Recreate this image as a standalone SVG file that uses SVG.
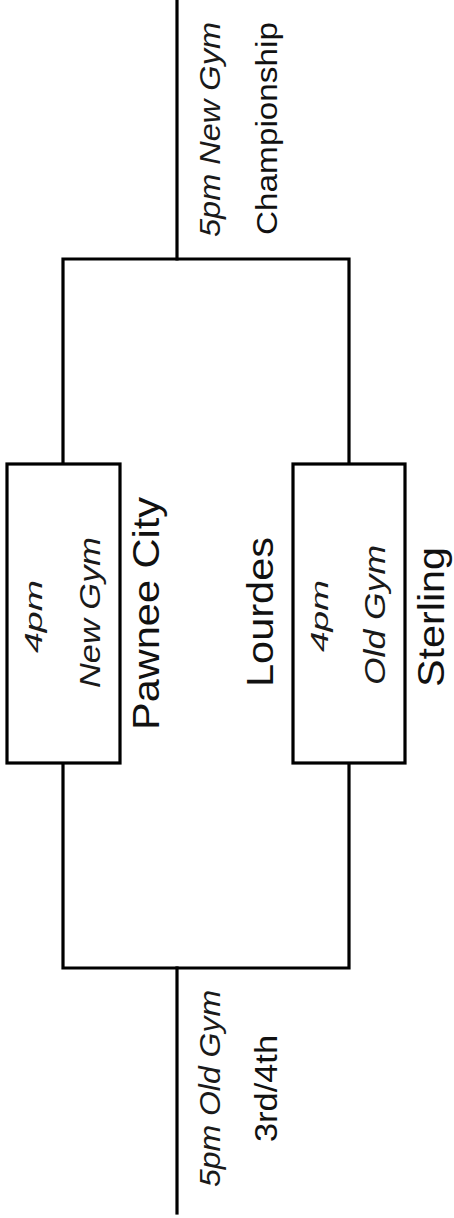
<svg xmlns="http://www.w3.org/2000/svg" width="454" height="1218" viewBox="0 0 454 1218">
<style>
.ln{fill:none;stroke:#000;stroke-width:3.2;stroke-linecap:square}
.box{fill:#fff;stroke:#000;stroke-width:3.2}
.it{font-family:"Liberation Sans",Arial,sans-serif;font-style:italic;fill:#1a1a1a}
.tm{font-family:"Liberation Sans",Arial,sans-serif;fill:#111}
</style>
<rect width="454" height="1218" fill="#fff"/>
<g id="connectors">
<path class="ln" d="M177,0 V259"/>
<path class="ln" d="M63,464 V259 H349 V464"/>
<path class="ln" d="M63,763 V968 H349 V763"/>
<path class="ln" d="M177,968 V1213"/>
</g>
<g id="final">
<text class="it" font-size="29" transform="translate(220,237) rotate(-90)" textLength="215" lengthAdjust="spacingAndGlyphs">5pm New Gym</text>
<text class="tm" font-size="30" transform="translate(277,235) rotate(-90)" textLength="213" lengthAdjust="spacingAndGlyphs">Championship</text>
</g>
<g id="game1">
<rect class="box" x="7" y="464" width="113" height="299"/>
<text class="it" font-size="23" transform="translate(42,653) rotate(-90)" textLength="73" lengthAdjust="spacingAndGlyphs">4pm</text>
<text class="it" font-size="29" transform="translate(100,688) rotate(-90)" textLength="151" lengthAdjust="spacingAndGlyphs">New Gym</text>
</g>
<g id="pawnee">
<text class="tm" font-size="37" transform="translate(159,730) rotate(-90)" textLength="233" lengthAdjust="spacingAndGlyphs">Pawnee City</text>
</g>
<g id="lourdes">
<text class="tm" font-size="36" transform="translate(273,687) rotate(-90)" textLength="150" lengthAdjust="spacingAndGlyphs">Lourdes</text>
</g>
<g id="game2">
<rect class="box" x="293" y="464" width="112" height="299"/>
<text class="it" font-size="23" transform="translate(328,652) rotate(-90)" textLength="72" lengthAdjust="spacingAndGlyphs">4pm</text>
<text class="it" font-size="29" transform="translate(385,685) rotate(-90)" textLength="140" lengthAdjust="spacingAndGlyphs">Old Gym</text>
</g>
<g id="sterling">
<text class="tm" font-size="37" transform="translate(444,687) rotate(-90)" textLength="140" lengthAdjust="spacingAndGlyphs">Sterling</text>
</g>
<g id="consolation">
<text class="it" font-size="29" transform="translate(220,1187) rotate(-90)" textLength="197" lengthAdjust="spacingAndGlyphs">5pm Old Gym</text>
<text class="tm" font-size="31" transform="translate(277,1142) rotate(-90)" textLength="107" lengthAdjust="spacingAndGlyphs">3rd/4th</text>
</g>
</svg>
